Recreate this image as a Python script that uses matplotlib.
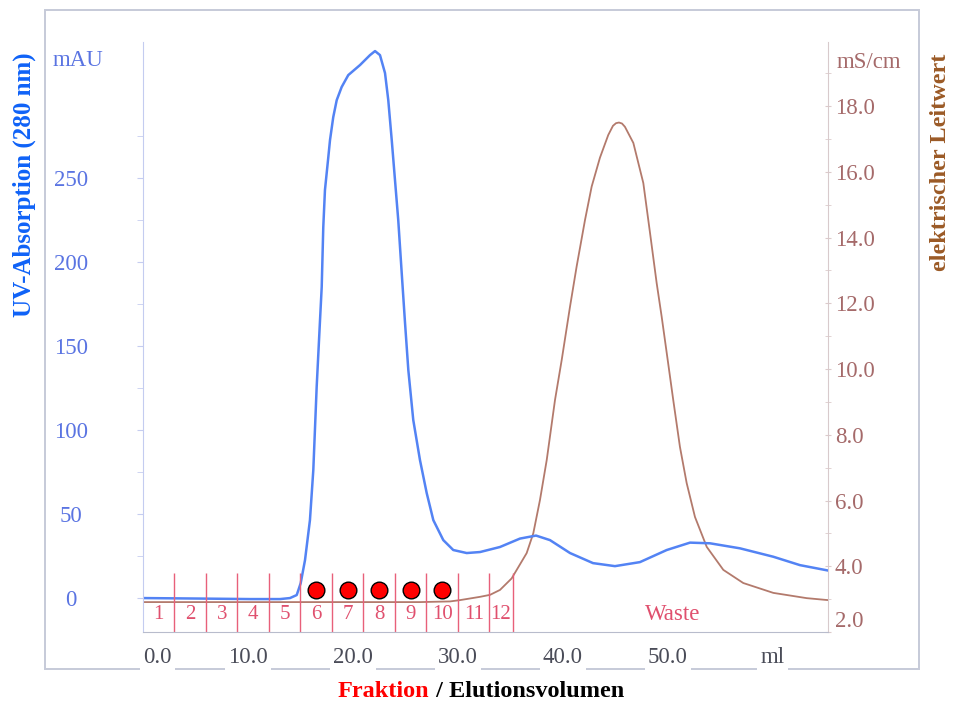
import numpy as np
import matplotlib
matplotlib.use('Agg')
import matplotlib.pyplot as plt
from matplotlib.patches import Rectangle

plt.rcParams['font.family'] = ['Liberation Serif', 'DejaVu Serif']

# UV trace: elution volume (ml) vs absorption at 280 nm (mAU)
uv_volume = [0.0, 5.43, 10.19, 13.05, 14.0, 14.64, 15.02, 15.43, 15.9, 16.22,
             16.54, 16.86, 17.02, 17.17, 17.33, 17.65, 17.81, 18.12, 18.45, 18.92,
             19.55, 20.67, 21.62, 22.1, 22.57, 23.05, 23.36, 23.69, 24.0, 24.31,
             24.64, 24.95, 25.27, 25.74, 26.38, 27.02, 27.65, 28.6, 29.55, 30.83,
             32.1, 34.0, 35.9, 37.43, 38.76, 40.67, 42.86, 44.95, 47.33, 49.88,
             52.1, 54.0, 56.86, 60.03, 62.57, 65.24]
uv_absorbance = [0.0, -0.3, -0.6, -0.6, 0.0, 1.8, 8.9, 22.6, 46.4, 76.2,
                 125.6, 165.5, 185.1, 220.8, 242.9, 262.5, 272.6, 286.3, 296.4, 304.2,
                 311.3, 317.3, 323.2, 325.6, 323.2, 312.5, 296.4, 272.6, 248.8, 225.0,
                 193.5, 164.3, 135.7, 106.0, 82.1, 62.5, 46.4, 34.5, 28.6, 26.8,
                 27.4, 30.4, 35.4, 37.2, 34.5, 26.8, 20.8, 19.0, 21.4, 28.6,
                 33.0, 32.6, 29.6, 24.6, 19.6, 16.4]

# conductivity trace (mS/cm)
cond_volume = [0.0, 14.95, 26.38, 29.24, 30.19, 32.1, 33.05, 34.0, 35.11, 36.54,
               37.17, 37.81, 38.45, 39.24, 39.88, 40.67, 41.3, 42.1, 42.73, 43.52,
               44.31, 44.76, 45.05, 45.33, 45.62, 45.9, 46.7, 47.65, 48.29, 48.92,
               49.4, 49.88, 50.5, 51.14, 51.78, 52.57, 53.69, 55.27, 57.17, 60.03,
               63.21, 65.24]
conductivity = [2.91, 2.91, 2.91, 2.93, 2.97, 3.07, 3.13, 3.28, 3.63, 4.4,
                5.0, 6.02, 7.23, 9.06, 10.28, 11.9, 13.12, 14.54, 15.55, 16.43,
                17.12, 17.4, 17.48, 17.5, 17.47, 17.37, 16.88, 15.66, 14.14, 12.62,
                11.59, 10.49, 9.06, 7.63, 6.53, 5.5, 4.59, 3.89, 3.49, 3.19,
                3.03, 2.97]

# fraction collector: boundaries (ml) and the fractions that were kept
fraction_edges = [0, 3, 6, 9, 12, 15, 18, 21, 24, 27, 30, 33, 35.2]
collected = [6, 7, 8, 9, 10]
dot_level = 4.8

volume_ticks = [0, 10, 20, 30, 40, 50, 60]
volume_labels = ['0.0', '10.0', '20.0', '30.0', '40.0', '50.0', 'ml']
uv_ticks = [0, 50, 100, 150, 200, 250]
cond_ticks = [2.0, 4.0, 6.0, 8.0, 10.0, 12.0, 14.0, 16.0, 18.0]

W, H = 954, 703
fig = plt.figure(figsize=(W / 100, H / 100), dpi=100)

# outer frame behind everything
fig.add_artist(Rectangle((45 / W, 1 - 669 / H), 874 / W, 659 / H, transform=fig.transFigure,
                         fill=False, edgecolor='#c6cad8', lw=1.4, zorder=-1))

ax = fig.add_axes([143 / W, 71 / H, 685 / W, 590 / H])
ax2 = ax.twinx()
ax.set_zorder(ax2.get_zorder() + 1)
ax.patch.set_visible(False)

ax2.plot(cond_volume, conductivity, color='#b37a6c', lw=1.3)
ax.plot(uv_volume, uv_absorbance, color='#5383f4', lw=1.8)

ax.set_xlim(0, 65.24)
ax.set_ylim(-20.2, 331)
ax2.set_ylim(2.0, 19.95)

for a in (ax, ax2):
    a.spines['top'].set_visible(False)
ax2.spines['left'].set_visible(False)
ax2.spines['bottom'].set_visible(False)
ax.spines['right'].set_visible(False)
ax.spines['left'].set_color('#c4ccf0')
ax.spines['bottom'].set_color('#b8bccc')
ax2.spines['right'].set_color('#d8cacc')

# left axis: UV absorption
ax.set_yticks(uv_ticks, labels=[str(t) for t in uv_ticks])
ax.set_yticks(np.arange(25, 301, 50), minor=True)
ax.tick_params(axis='y', which='both', direction='out', length=4, color='#c6cdf0',
               labelcolor='#5a74e2', labelsize=16.5, pad=48)
for lbl in ax.get_yticklabels():
    lbl.set_ha('center')

# right axis: conductivity
ax2.set_yticks(cond_ticks, labels=[f'{v:.1f}' for v in cond_ticks])
ax2.set_yticks(np.arange(3, 20, 2), minor=True)
ax2.tick_params(axis='y', which='both', direction='inout', length=4, color='#dccbcb',
                labelcolor='#a56a6a', labelsize=16.5, pad=3)
ax2.yaxis.get_major_ticks()[0].label2.set_va('bottom')

# volume labels sit on the outer frame line
ax.set_xticks(volume_ticks, labels=volume_labels)
ax.tick_params(axis='x', length=0, pad=11, labelsize=16.5, labelcolor='#4a4c58')
for lbl in ax.get_xticklabels():
    lbl.set_bbox(dict(facecolor='white', edgecolor='none', pad=2.5))
ax.get_xticklabels()[0].set_ha('left')

# fraction marks and numbers
xt = ax.get_xaxis_transform()
ax.vlines(fraction_edges[1:], 0, 0.1, transform=xt, colors='#e8607a', lw=1)
centers = [(fraction_edges[i] + fraction_edges[i + 1]) / 2 for i in range(len(fraction_edges) - 1)]
for i, c in enumerate(centers, start=1):
    ax.text(c, 0.029, str(i), transform=xt, ha='center', va='center',
            color='#e0506e', fontsize=15)
ax.text(50.4, 0.029, 'Waste', transform=xt, ha='center', va='center',
        color='#e0506e', fontsize=16.5)
ax.plot([centers[f - 1] for f in collected], [dot_level] * len(collected), 'o',
        ms=12, mfc='#ff0000', mec='black', mew=1, zorder=5)

# axis titles and units
fig.text(78 / W, 1 - 60 / H, 'mAU', ha='center', va='center', color='#5a74e2', fontsize=16.5)
fig.text(869 / W, 1 - 62 / H, 'mS/cm', ha='center', va='center', color='#a56a6a', fontsize=16.5)
fig.text(24 / W, 1 - 185 / H, 'UV-Absorption (280 nm)', rotation=90, ha='center', va='center',
         color='#0f62f7', fontsize=18, fontweight='bold')
fig.text(941 / W, 1 - 162 / H, 'elektrischer Leitwert', rotation=90, ha='center', va='center',
         color='#9b5a26', fontsize=17.5, fontweight='bold')

t1 = fig.text(338 / W, 1 - 697 / H, 'Fraktion', ha='left', va='baseline',
              color='#ff0000', fontsize=17.5, fontweight='bold')
ax.annotate(' / Elutionsvolumen', xy=(1, 0), xycoords=t1, ha='left', va='bottom',
            color='black', fontsize=17.5, fontweight='bold', annotation_clip=False)

fig.savefig('out.png', dpi=100)
